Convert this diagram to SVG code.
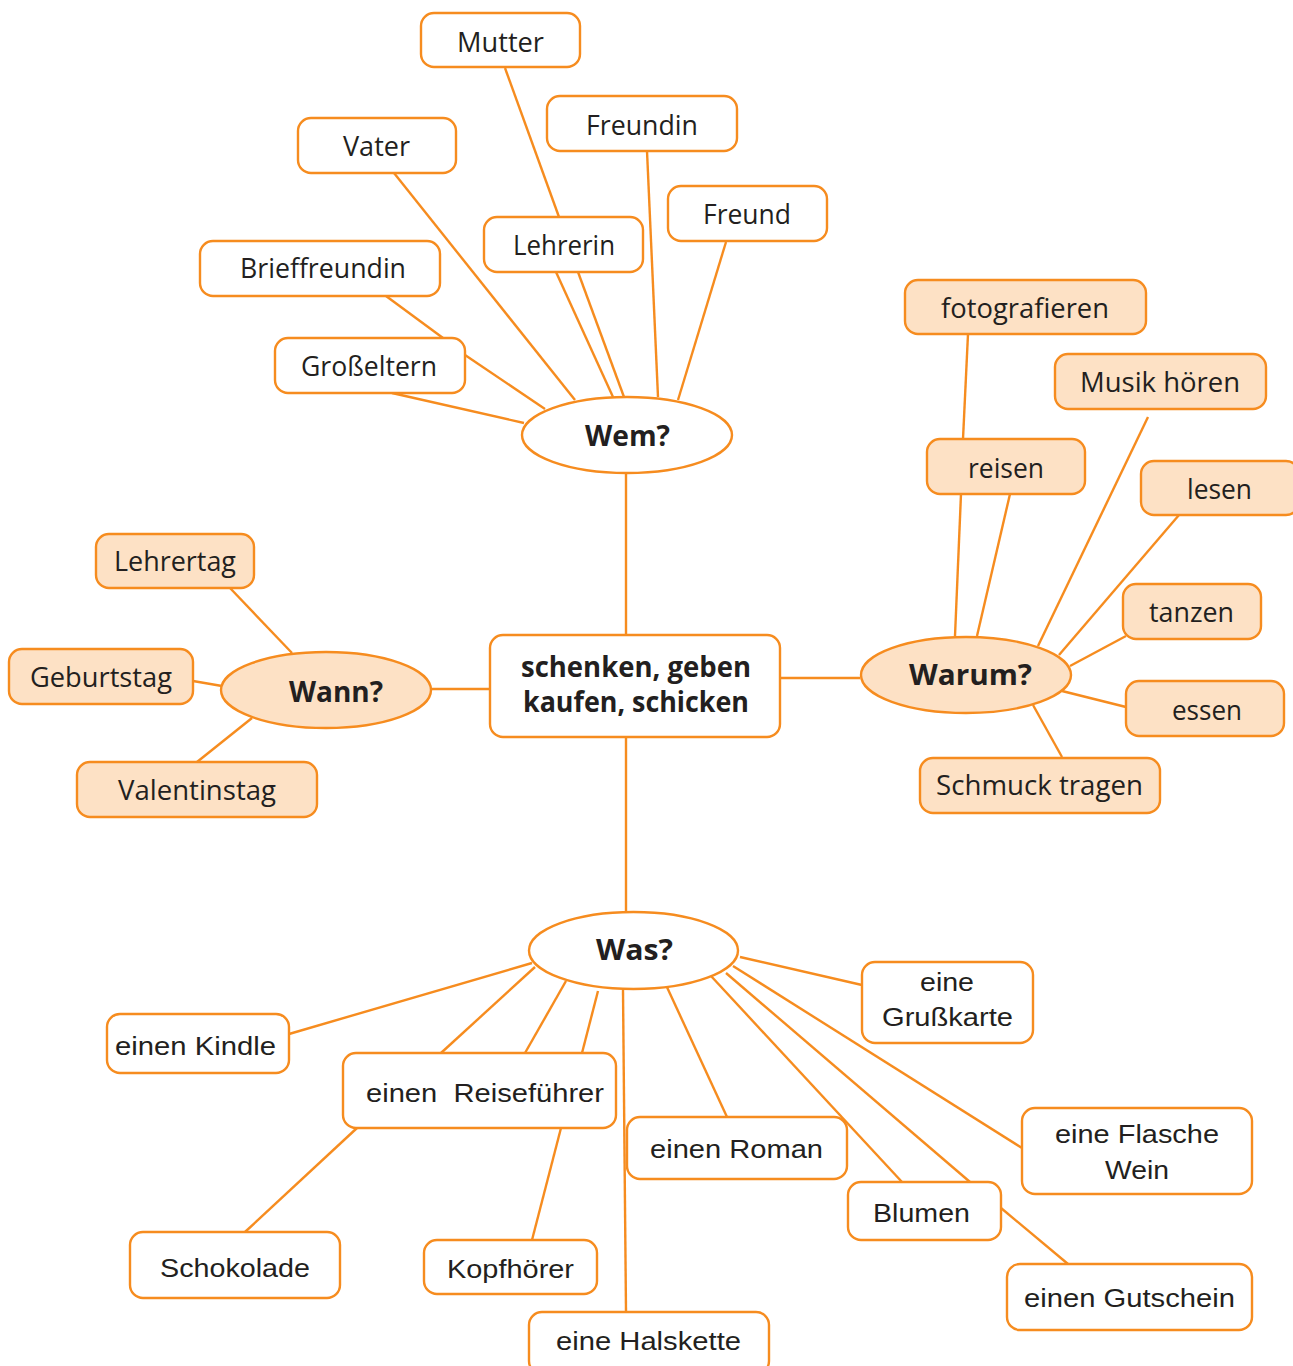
<svg xmlns="http://www.w3.org/2000/svg" width="1293" height="1366" viewBox="0 0 1293 1366">
<style>
.bx{fill:#ffffff;stroke:#F68C1F;stroke-width:2.4}
.pf{fill:#FDE1C5;stroke:#F68C1F;stroke-width:2.4}
.ln{stroke:#F68C1F;stroke-width:2.4;fill:none}
.s{font-family:"Open Sans","Noto Sans",sans-serif;font-size:27px;fill:#231F20;text-anchor:middle}
.b{font-family:"Open Sans","Noto Sans",sans-serif;font-size:28px;font-weight:bold;fill:#231F20;text-anchor:middle}
.a{font-family:"Liberation Sans",Arial,sans-serif;font-size:26.5px;fill:#231F20;text-anchor:middle;white-space:pre}
</style>
<rect width="1293" height="1366" fill="#ffffff"/>
<g id="connectors" class="ln">
<line x1="505" y1="68" x2="559" y2="217"/>
<line x1="394" y1="173" x2="575" y2="400"/>
<line x1="556" y1="272" x2="613" y2="397"/>
<line x1="578" y1="272" x2="624" y2="397"/>
<line x1="647" y1="151" x2="658" y2="397"/>
<line x1="726" y1="242" x2="678" y2="400"/>
<line x1="386" y1="296" x2="443" y2="338"/>
<line x1="465" y1="355" x2="545" y2="409"/>
<line x1="392" y1="393" x2="524" y2="423"/>
<line x1="626" y1="473" x2="626" y2="635"/>
<line x1="626" y1="737" x2="626" y2="912"/>
<line x1="431" y1="689" x2="490" y2="689"/>
<line x1="230" y1="588" x2="292" y2="653"/>
<line x1="193" y1="681" x2="222" y2="686"/>
<line x1="197" y1="762" x2="252" y2="718"/>
<line x1="780" y1="678" x2="860" y2="678"/>
<line x1="968" y1="334" x2="963" y2="439"/>
<line x1="961" y1="494" x2="955" y2="636"/>
<line x1="1010" y1="494" x2="977" y2="636"/>
<line x1="1148" y1="417" x2="1038" y2="646"/>
<line x1="1179" y1="515" x2="1059" y2="655"/>
<line x1="1126" y1="636" x2="1070" y2="666"/>
<line x1="1126" y1="707" x2="1062" y2="691"/>
<line x1="1062" y1="757" x2="1033" y2="705"/>
<line x1="289" y1="1034" x2="532" y2="963"/>
<line x1="441" y1="1053" x2="535" y2="967"/>
<line x1="525" y1="1053" x2="566" y2="981"/>
<line x1="582" y1="1053" x2="598" y2="991"/>
<line x1="245" y1="1232" x2="357" y2="1128"/>
<line x1="532" y1="1240" x2="561" y2="1128"/>
<line x1="623" y1="990" x2="626" y2="1312"/>
<line x1="666" y1="985" x2="727" y2="1117"/>
<line x1="711" y1="976" x2="902" y2="1182"/>
<line x1="726" y1="973" x2="970" y2="1182"/>
<line x1="733" y1="966" x2="1022" y2="1148"/>
<line x1="740" y1="957" x2="862" y2="985"/>
<line x1="1001" y1="1208" x2="1068" y2="1264"/>
</g>
<g id="n-mutter"><rect class="bx" x="421" y="13" width="159" height="54" rx="13"/><text class="s" x="500.5" y="52" textLength="87" lengthAdjust="spacingAndGlyphs">Mutter</text></g>
<g id="n-freundin"><rect class="bx" x="547" y="96" width="190" height="55" rx="13"/><text class="s" x="642" y="135" textLength="112" lengthAdjust="spacingAndGlyphs">Freundin</text></g>
<g id="n-vater"><rect class="bx" x="298" y="118" width="158" height="55" rx="13"/><text class="s" x="376.5" y="156" textLength="67" lengthAdjust="spacingAndGlyphs">Vater</text></g>
<g id="n-freund"><rect class="bx" x="668" y="186" width="159" height="55" rx="13"/><text class="s" x="747" y="224" textLength="88" lengthAdjust="spacingAndGlyphs">Freund</text></g>
<g id="n-lehrerin"><rect class="bx" x="484" y="217" width="159" height="55" rx="13"/><text class="s" x="564" y="255" textLength="102" lengthAdjust="spacingAndGlyphs">Lehrerin</text></g>
<g id="n-brieffreundin"><rect class="bx" x="200" y="241" width="240" height="55" rx="13"/><text class="s" x="323" y="278" textLength="166" lengthAdjust="spacingAndGlyphs">Brieffreundin</text></g>
<g id="n-grosseltern"><rect class="bx" x="275" y="338" width="190" height="55" rx="13"/><text class="s" x="369" y="376" textLength="136" lengthAdjust="spacingAndGlyphs">Großeltern</text></g>
<g id="n-wem"><ellipse class="bx" cx="627" cy="435" rx="105" ry="38"/><text class="b" x="627.5" y="446" textLength="85" lengthAdjust="spacingAndGlyphs">Wem?</text></g>
<g id="n-center"><rect class="bx" x="490" y="635" width="290" height="102" rx="13"/><text class="b" x="636" y="677" textLength="230" lengthAdjust="spacingAndGlyphs">schenken, geben</text><text class="b" x="636" y="712" textLength="226" lengthAdjust="spacingAndGlyphs">kaufen, schicken</text></g>
<g id="n-wann"><ellipse class="pf" cx="326" cy="690" rx="105" ry="38"/><text class="b" x="336" y="702" textLength="94" lengthAdjust="spacingAndGlyphs">Wann?</text></g>
<g id="n-lehrertag"><rect class="pf" x="96" y="534" width="158" height="54" rx="13"/><text class="s" x="175" y="571" textLength="122" lengthAdjust="spacingAndGlyphs">Lehrertag</text></g>
<g id="n-geburtstag"><rect class="pf" x="9" y="649" width="184" height="55" rx="13"/><text class="s" x="101" y="687" textLength="142" lengthAdjust="spacingAndGlyphs">Geburtstag</text></g>
<g id="n-valentinstag"><rect class="pf" x="77" y="762" width="240" height="55" rx="13"/><text class="s" x="197" y="800" textLength="158" lengthAdjust="spacingAndGlyphs">Valentinstag</text></g>
<g id="n-warum"><ellipse class="pf" cx="966" cy="675" rx="105" ry="38"/><text class="b" x="970.5" y="685" textLength="123" lengthAdjust="spacingAndGlyphs">Warum?</text></g>
<g id="n-fotografieren"><rect class="pf" x="905" y="280" width="241" height="54" rx="13"/><text class="s" x="1025" y="318" textLength="168" lengthAdjust="spacingAndGlyphs">fotografieren</text></g>
<g id="n-musik"><rect class="pf" x="1055" y="354" width="211" height="55" rx="13"/><text class="s" x="1160" y="392" textLength="160" lengthAdjust="spacingAndGlyphs">Musik hören</text></g>
<g id="n-reisen"><rect class="pf" x="927" y="439" width="158" height="55" rx="13"/><text class="s" x="1006" y="478" textLength="76" lengthAdjust="spacingAndGlyphs">reisen</text></g>
<g id="n-lesen"><rect class="pf" x="1141" y="461" width="158" height="54" rx="13"/><text class="s" x="1219.5" y="499" textLength="65" lengthAdjust="spacingAndGlyphs">lesen</text></g>
<g id="n-tanzen"><rect class="pf" x="1123" y="584" width="138" height="55" rx="13"/><text class="s" x="1191.5" y="622" textLength="85" lengthAdjust="spacingAndGlyphs">tanzen</text></g>
<g id="n-essen"><rect class="pf" x="1126" y="681" width="158" height="55" rx="13"/><text class="s" x="1207" y="720" textLength="70" lengthAdjust="spacingAndGlyphs">essen</text></g>
<g id="n-schmuck"><rect class="pf" x="920" y="758" width="240" height="55" rx="13"/><text class="s" x="1039.5" y="795" textLength="207" lengthAdjust="spacingAndGlyphs">Schmuck tragen</text></g>
<g id="n-was"><ellipse class="bx" cx="633.5" cy="950.5" rx="104.5" ry="38.5"/><text class="b" x="634.5" y="960" textLength="77" lengthAdjust="spacingAndGlyphs">Was?</text></g>
<g id="n-kindle"><rect class="bx" x="107" y="1014" width="182" height="59" rx="13"/><text class="a" x="195.5" y="1055" textLength="161" lengthAdjust="spacingAndGlyphs">einen Kindle</text></g>
<g id="n-reisefuehrer"><rect class="bx" x="343" y="1053" width="273" height="75" rx="13"/><text class="a" x="485" y="1102" textLength="238" lengthAdjust="spacingAndGlyphs">einen  Reiseführer</text></g>
<g id="n-schokolade"><rect class="bx" x="130" y="1232" width="210" height="66" rx="13"/><text class="a" x="235" y="1277" textLength="150" lengthAdjust="spacingAndGlyphs">Schokolade</text></g>
<g id="n-kopfhoerer"><rect class="bx" x="424" y="1240" width="173" height="54" rx="13"/><text class="a" x="510.5" y="1278" textLength="127" lengthAdjust="spacingAndGlyphs">Kopfhörer</text></g>
<g id="n-halskette"><rect class="bx" x="529" y="1312" width="240" height="62" rx="13"/><text class="a" x="648.5" y="1350" textLength="185" lengthAdjust="spacingAndGlyphs">eine Halskette</text></g>
<g id="n-roman"><rect class="bx" x="627" y="1117" width="220" height="62" rx="13"/><text class="a" x="736.5" y="1158" textLength="173" lengthAdjust="spacingAndGlyphs">einen Roman</text></g>
<g id="n-grusskarte"><rect class="bx" x="862" y="962" width="171" height="81" rx="13"/><text class="a" x="947" y="991" textLength="54" lengthAdjust="spacingAndGlyphs">eine</text><text class="a" x="947.5" y="1026" textLength="131" lengthAdjust="spacingAndGlyphs">Grußkarte</text></g>
<g id="n-blumen"><rect class="bx" x="848" y="1182" width="153" height="58" rx="13"/><text class="a" x="921.5" y="1222" textLength="97" lengthAdjust="spacingAndGlyphs">Blumen</text></g>
<g id="n-wein"><rect class="bx" x="1022" y="1108" width="230" height="86" rx="13"/><text class="a" x="1137" y="1143" textLength="164" lengthAdjust="spacingAndGlyphs">eine Flasche</text><text class="a" x="1137" y="1179" textLength="64" lengthAdjust="spacingAndGlyphs">Wein</text></g>
<g id="n-gutschein"><rect class="bx" x="1007" y="1264" width="245" height="66" rx="13"/><text class="a" x="1129.5" y="1307" textLength="211" lengthAdjust="spacingAndGlyphs">einen Gutschein</text></g>
</svg>
